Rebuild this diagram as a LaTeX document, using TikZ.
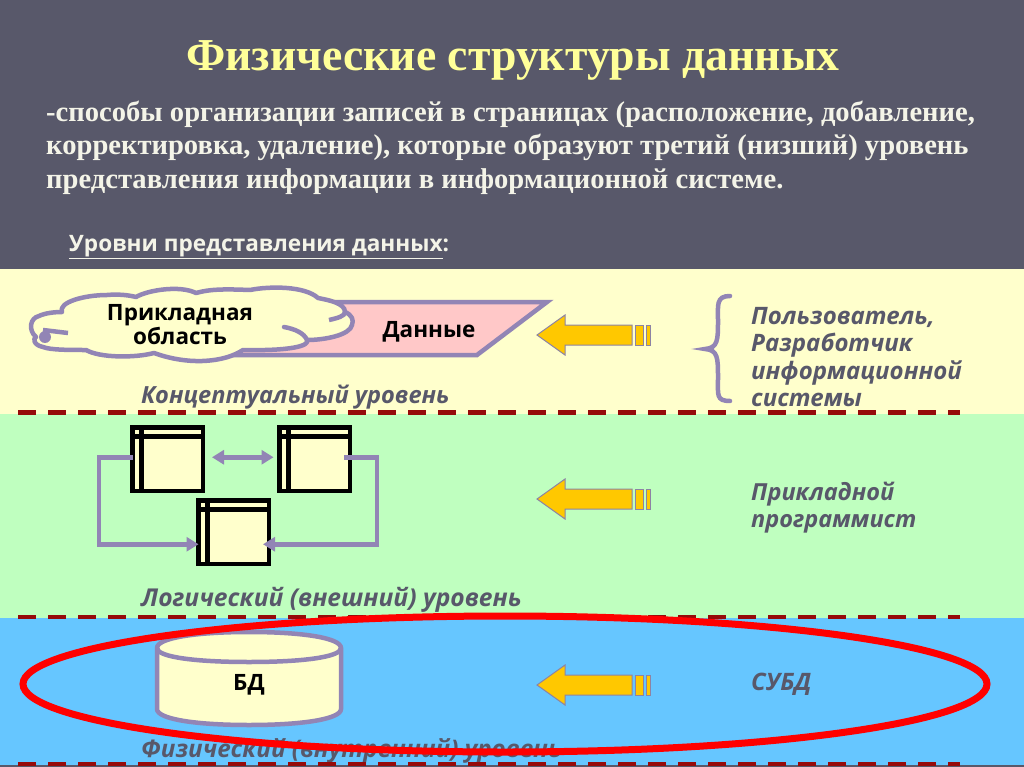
\documentclass[tikz,border=0pt]{standalone}
\usepackage{fontspec}
\setmainfont{Liberation Serif}
\newfontfamily\sansf{Open Sans}
\usetikzlibrary{arrows.meta,calc}
\definecolor{slate}{HTML}{58586A}
\definecolor{paleY}{HTML}{FFFFCC}
\definecolor{paleG}{HTML}{BFFFBF}
\definecolor{paleB}{HTML}{66C6FF}
\definecolor{lilac}{HTML}{9285B5}
\definecolor{pinkf}{HTML}{FFC8C8}
\definecolor{dred}{HTML}{960A0A}
\definecolor{gold}{HTML}{FFC800}
\definecolor{titleY}{HTML}{FFFF99}
\definecolor{bodyW}{HTML}{F4F4E8}
\tikzset{
 lev/.style={font=\sansf\fontsize{#1}{26}\selectfont\bfseries\itshape,text=slate,anchor=west,inner sep=0},
 role/.style={font=\sansf\fontsize{#1}{27.3}\selectfont\bfseries\itshape,text=slate,anchor=west,align=left,inner sep=0},
 lbl/.style={font=\sansf\fontsize{22.5}{21.5}\selectfont\bfseries,text=black,align=center,inner sep=0},
 dashline/.style={draw=dred,line width=4.4pt,dash pattern=on 18pt off 12pt},
 tbl/.style={draw=black,line width=4.8pt,fill=paleY,minimum width=70.5pt,minimum height=63.5pt,inner sep=0,outer sep=0,anchor=north west},
 lil/.style={draw=lilac,line width=4.5pt},
 conn/.style={draw=lilac,line width=4.8pt,-{Triangle[length=12pt,width=14pt]}},
 goldp/.style={fill=gold,draw=lilac!70!gray,line width=1pt},
}
\newcommand{\goldarrow}[1]{%
 \begin{scope}[shift={(0,#1)}]
 \path[goldp] (537,0) -- (565,-20) -- (565,-10) -- (632,-10) -- (632,10) -- (565,10) -- (565,20) -- cycle;
 \path[goldp] (635,-10) rectangle (643,10);
 \path[goldp] (646,-10) rectangle (650,10);
 \end{scope}}
\newcommand{\tablebox}[3]{%
 \node[tbl] (#1) at (#2,#3) {};
 \draw[black,line width=4.8pt] ($(#1.north west)+(0,9)$) -- ($(#1.north east)+(0,9)$)
   ($(#1.north west)+(9,0)$) -- ($(#1.south west)+(9,0)$);}
\begin{document}
\begin{tikzpicture}[x=1pt,y=-1pt]
\useasboundingbox (0,0) rectangle (1024,767);
\fill[slate] (0,0) rectangle (1024,767);
\fill[paleY] (0,269) rectangle (1024,414);
\fill[paleG] (0,414) rectangle (1024,618);
\fill[paleB] (0,618) rectangle (1024,765);

\node[font=\fontsize{45.7}{50}\selectfont\bfseries,text=titleY,inner sep=0] (title) at (513,60) {Физические структуры данных};
\node[font=\fontsize{28.6}{33.3}\selectfont\bfseries,text=bodyW,anchor=north west,align=left,inner sep=0] (body) at (46,101) {-способы организации записей в страницах (расположение, добавление,\\корректировка, удаление), которые образуют третий (низший) уровень\\представления информации в информационной системе.};
\node[font=\sansf\fontsize{22.6}{26}\selectfont\bfseries,text=bodyW,anchor=west,inner sep=0] (sub) at (69,247) {\underline{Уровни представления данных}:};

% parallelogram
\path[lil,fill=pinkf,line join=miter] (200,302) -- (547,302) -- (477,355) -- (200,355) -- cycle;
\node[lbl] (dann) at (429,332) {Данные};
% cloud
\path[lil,fill=paleY,line join=round]
 (62,312) .. controls (58,302) and (85,295) .. (107,295)
 .. controls (118,294) and (128,295) .. (136,297)
 .. controls (148,290) and (180,285) .. (196,293)
 .. controls (210,289) and (225,289) .. (250,290)
 .. controls (270,286) and (305,286) .. (318,298)
 .. controls (328,300) and (345,303) .. (345,312)
 .. controls (352,315) and (354,320) .. (352,325)
 .. controls (350,335) and (325,340) .. (307,340)
 .. controls (310,346) and (290,351) .. (243,350)
 .. controls (225,362) and (190,366) .. (154,353)
 .. controls (135,358) and (100,358) .. (86,350)
 .. controls (70,350) and (50,350) .. (43,347)
 .. controls (33,345) and (33,338) .. (36,337)
 .. controls (28,330) and (30,318) .. (39,316)
 .. controls (45,313) and (55,312) .. (62,312) -- cycle;
\draw[lil,line cap=round] (284,327) .. controls (295,329) and (304,333) .. (307,340);
\draw[lil] (329,320) .. controls (338,318) and (345,316) .. (345,312) (43,330) -- (68,333);
\coordinate (blobc) at (45,337);
\fill[lilac] (blobc) circle (6pt);
\node[lbl] (cl) at (180,324.5) {Прикладная\\область};
\node[lev=23.6] (l1) at (141,397) {Концептуальный уровень};

\goldarrow{335}
% brace
\draw[lil,line cap=round] (730,296) .. controls (716,296) and (718,305) .. (718,320)
 .. controls (718,340) and (718,348) .. (705,349)
 .. controls (718,350) and (718,358) .. (718,378) .. controls (718,395) and (716,401) .. (730,401);
\node[role=24] (r1) at (751,357) {Пользователь,\\Разработчик\\информационной\\системы};

\draw[dashline] (18,412.5) -- (960,412.5);

% tables
\tablebox{t1}{132.5}{427.5}
\tablebox{t2}{279.5}{427.5}
\tablebox{t3}{198.5}{500.5}
\coordinate (a2) at ($(t2.east)+(-6,-2)$);
\coordinate (c2) at ($(t3.east)+(-6,12)$);
\coordinate (c1) at ($(t3.west)+(0,12)$);
\coordinate (a1) at ($(t1.west)+(0,-2)$);
\coordinate (bl) at (99,500);
\coordinate (br) at (377,500);
\draw[conn] (a1) -| (bl) |- (c1);
\draw[conn] (a2) -| (br) |- (c2);
\draw[lilac,line width=4.8pt,{Triangle[length=12pt,width=14pt]}-{Triangle[length=12pt,width=14pt]}] ($(t1.east)+(9,-2)$) -- ($(t2.west)+(-6,-2)$);
\node[lev=24.6] (l2) at (141,600) {Логический (внешний) уровень};
\goldarrow{499}
\node[role=23.5] (r2) at (751,507.5) {Прикладной\\программист};

\draw[dashline] (18,617) -- (960,617);

% cylinder
\path[lil,fill=paleY] (157,648) -- (157,709) .. controls (157,719) and (195,725) .. (249,725) .. controls (303,725) and (341,719) .. (341,709) -- (341,648) .. controls (341,638) and (303,632) .. (249,632) .. controls (195,632) and (157,638) .. (157,648) -- cycle;
\draw[lil] (157,648) .. controls (157,657) and (195,662) .. (249,662) .. controls (303,662) and (341,657) .. (341,648);
\node[lbl] (bd) at (249,685) {БД};
\node[lev=24.2] (l3) at (141,751) {Физический (внутренний) уровень};
\goldarrow{685}
\node[role=24] (r3) at (751,684) {СУБД};
\draw[dashline] (18,764) -- (960,764);
\draw[red,line width=7pt] (505,684) ellipse (482 and 68);
\end{tikzpicture}
\end{document}
